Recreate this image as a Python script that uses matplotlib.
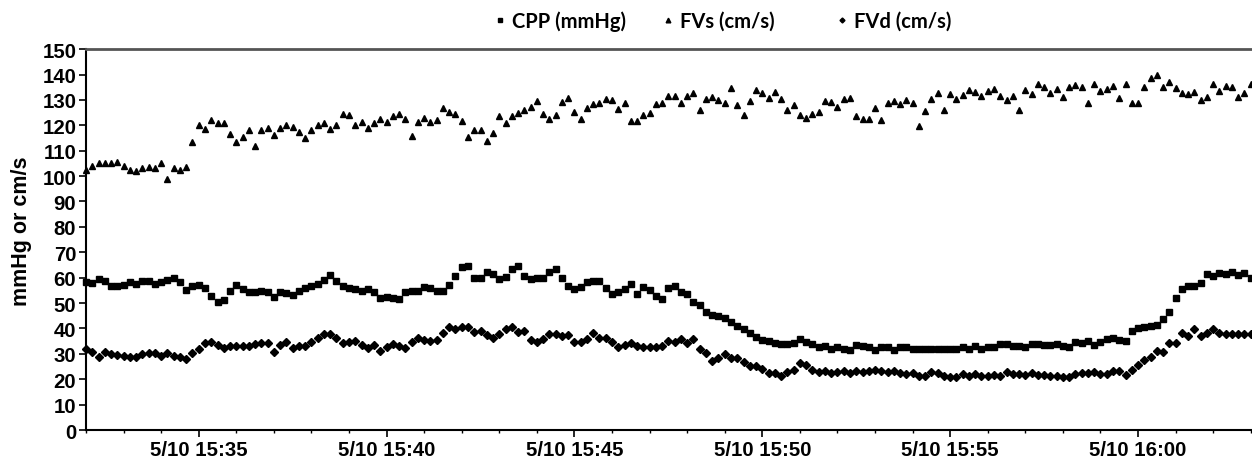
import pandas as pd
import numpy as np
import matplotlib
matplotlib.use("Agg")
import matplotlib.pyplot as plt
import matplotlib.dates as mdates
from matplotlib.ticker import FuncFormatter, MultipleLocator

# sampled every 10 s from 15:32:00 to 16:03:00
times = pd.date_range("2013-05-10 15:32:00", periods=187, freq="10s")

cpp = [58.4, 58, 59.3, 58.8, 56.7, 56.7, 57.1, 58.4, 57.6, 58.8,
       58.8, 57.6, 58.2, 59.2, 59.9, 58.2, 55.3, 56.7, 57.1, 55.9,
       52.8, 50.3, 51.4, 54.9, 57.1, 55.4, 54.2, 54.2, 54.6, 54.2,
       52.4, 54.2, 53.8, 53.2, 54.7, 55.9, 56.7, 57.4, 59.2, 60.9,
       58.7, 56.7, 55.8, 55.5, 54.6, 55.4, 54.2, 52, 52.5,
       52.1, 51.6, 54.3, 54.7, 54.7, 56.4, 55.9, 54.9, 54.9, 57.1,
       60.8, 64.2, 64.6, 60, 60, 62.1, 61.3, 59.5, 60.4, 63.4,
       64.7, 60.8, 59.5, 60, 60, 62.4, 63.4, 60, 56.7, 55.4,
       56.3, 58.4, 58.8, 58.8, 55.8, 53.7, 54.5, 55.5, 57.4, 53.7,
       56.2, 55, 52.8, 51.6, 55.8, 56.8, 54.5, 53.4, 50.5, 49.1, 46.3,
       45.3, 44.9, 44, 42.4, 41.1, 39.9, 38.3, 36.7, 35.5, 35,
       34.1, 33.8, 33.9, 34.2, 35.8, 34.7, 33.8, 32.5, 33, 32.1,
       32.5, 32.1, 31.4, 33.3, 33, 32.5, 31.4, 32.5, 32.5, 31.4,
       32.5, 32.5, 32.1, 32.1, 32.1, 32.1, 32.1, 32.1, 32.1, 32.1,
       32.5, 32.1, 33, 32.1, 32.5, 32.5,
       33.8, 33.8, 33.2, 33.2, 32.8, 33.9, 33.8, 33.3, 33.3, 33.9,
       33.2, 32.8, 34.6, 34.2, 35.1, 33.6, 34.7, 35.7, 36.4, 35.4,
       35, 38.8, 40, 40.4, 40.8, 41.3, 43.7, 46.3, 52, 55.4,
       56.7, 56.6, 58, 61.4, 60.8, 61.7, 61.3, 62.1, 61.1, 61.7, 60]

fvs = [102.5, 104, 105, 105, 105, 105.5, 104, 102.5, 102, 103,
       103.5, 103, 105, 99, 103, 102.5, 103.5,
       113.5, 120, 118.5, 122, 121, 121, 116.5, 113.5, 115.5, 118,
       112, 118, 119, 116, 119, 120, 119.5, 117.5, 115, 118,
       120, 121, 118.5, 120, 124.5, 124, 120, 121.5, 119, 121, 122.5, 121.5,
       123.6, 124.6, 122.5, 115.7, 121.2, 123, 121.5, 122.2, 126.8, 125.3,
       124.5, 121.7, 115.3, 118.2, 118.2, 114, 116.9, 123.6, 121.1, 123.6,
       124.9, 125.9, 127.2, 129.5, 124.5, 122.6, 124.1, 129.3, 130.7, 125.3,
       122.6, 126.8, 128.2, 128.6, 130.3, 129.9, 126.4, 128.9, 121.8, 121.8,
       123.9, 124.9, 128.3, 128.7, 131.6, 131.6, 128.9, 131.4, 132.8, 126.1, 130.5,
       131.1, 129.9, 128.9, 134.5, 127.9, 124.1, 129.5, 134.1, 132.8, 130.7,
       133.3, 130.4, 126.1, 127.9, 124.1, 122.8, 124.6, 125.3, 129.5, 129.2,
       127.2, 130.4, 130.8, 123.6, 122.5, 122.5, 127, 122, 128.7, 129.6,
       128.3, 130, 128.7, 119.9, 125.5, 130.4, 132.8, 126.1, 132.4, 130.3,
       132.1, 134.1, 133.3, 131.4, 133.7, 134.3,
       131.7, 129.9, 131.7, 126.2, 134.1, 132.4, 136.4, 134.9, 132.8, 134.3,
       131.1, 134.9, 135.8, 134.9, 128.9, 136.4, 133.5, 134.3, 135.3, 130.7,
       136.4, 128.9, 128.7, 134.9, 138.6, 139.9, 134.9, 137, 134.5, 132.6,
       132.2, 133.2, 129.9, 131.1, 136.1, 133.6, 135.4, 134.9, 131.1, 132.8, 136.4]

fvd = [32.1, 30.8, 28.7, 30.8, 30, 29.7, 29.1, 28.7, 28.7, 30,
       30.4, 30.4, 29.3, 30.4, 29.2, 28.7, 27.9, 30.4, 32.1, 34.1,
       34.6, 33.4, 32.4, 33.2, 33.2, 33.2, 33.2, 33.7, 34.1, 34.1,
       30.8, 33.4, 34.5, 32.4, 33.2, 33.2, 34.7, 36.3, 37.9, 37.9,
       36.1, 34.1, 34.5, 34.9, 33.6, 32.4, 33.3, 31.2, 32.5,
       33.7, 32.9, 32.4, 34.7, 36.1, 35.3, 35, 35.4, 38.2, 40.5,
       39.6, 40.4, 40.4, 38.7, 39.1, 37.4, 36.3, 38, 39.7, 40.7,
       38.7, 39.1, 35.3, 34.7, 35.8, 38, 38, 37.1, 37.4, 34.5,
       34.5, 35.8, 38.3, 36.4, 36.4, 34.5, 32.5, 33.3, 34.1, 32.9,
       32.6, 32.6, 32.6, 32.9, 35, 34.5, 35.7, 34.2, 35.7, 32.1, 30.5,
       27.2, 28.4, 30, 28.4, 28.4, 26.6, 25.3, 25.3, 23.9, 22.4,
       22.4, 21.1, 22.9, 23.8, 26.2, 25.8, 23.6, 22.9, 23.3, 22.4,
       22.9, 23.3, 22.4, 23.3, 22.9, 23.3, 23.8, 23.3, 22.9, 23.3,
       22.4, 22, 22.4, 21.2, 21.2, 22.9, 22.4, 21.2, 20.7, 20.7,
       22, 21.2, 22.1, 21.2, 21.2, 21.6,
       21.2, 22.9, 22, 22, 21.6, 22.5, 21.7, 21.7, 21.3, 21.3,
       20.9, 20.9, 22.1, 22.5, 22.5, 22.9, 22.1, 22.1, 23.3, 23.3,
       21.8, 23.7, 25.8, 27.4, 28.8, 31.3, 30.7, 34.1, 34.1, 38.3,
       37.2, 39.7, 37.2, 38.3, 39.7, 38.2, 37.9, 37.9, 37.9, 37.9, 37.9]

labels = ["CPP (mmHg)", "FVs (cm/s)", "FVd (cm/s)"]

plt.rcParams['font.family'] = ['Liberation Sans', 'DejaVu Sans']

fig = plt.figure(figsize=(12.52, 4.6), dpi=100)
ax = fig.add_axes([0.0687, 0.063, 0.9303, 0.828])

h1, = ax.plot(times, cpp, 's', color='black', markersize=4.4, clip_on=False)
h2, = ax.plot(times, fvs, '^', color='black', markersize=4.8, clip_on=False)
h3, = ax.plot(times, fvd, 'D', color='black', markersize=3.6, clip_on=False)

ax.set_ylim(0, 150)
ax.set_xlim(times[0], times[-1])
ax.yaxis.set_major_locator(MultipleLocator(10))

ax.xaxis.set_major_locator(mdates.MinuteLocator(byminute=range(0, 60, 5)))
ax.xaxis.set_minor_locator(mdates.MinuteLocator())


def fmt_time(v, pos):
    d = mdates.num2date(v)
    return f"{d.month}/{d.day} {d:%H:%M}"


ax.xaxis.set_major_formatter(FuncFormatter(fmt_time))

ax.tick_params(axis='both', which='major', direction='out', length=5, width=1.2,
               labelsize=14.7, pad=2)
ax.tick_params(axis='x', which='minor', direction='out', length=2.5, width=1)
for lab in ax.get_xticklabels() + ax.get_yticklabels():
    lab.set_fontweight('bold')

ax.set_ylabel("mmHg or cm/s", fontsize=15.5, fontweight='bold')
ax.yaxis.set_label_coords(-0.046, 0.525)

ax.spines['left'].set_linewidth(1.5)
ax.spines['bottom'].set_linewidth(1.5)
ax.spines['top'].set_color('#555555')
ax.spines['top'].set_linewidth(2)
ax.spines['right'].set_visible(False)

# one legend entry per slot, spaced like the original
marker_x = [500, 668, 842]
for h, lab, mx in zip([h1, h2, h3], labels, marker_x):
    fig.legend([h], [lab], loc='center left',
               bbox_to_anchor=((mx - 5) / 1252, 1 - 22 / 460),
               frameon=False, markerscale=0.7, handlelength=0.5,
               handletextpad=0.35, borderpad=0, borderaxespad=0,
               prop={'family': ['Lato', 'DejaVu Sans'], 'weight': 'bold', 'size': 14.5})

fig.savefig("out.png", dpi=100)
